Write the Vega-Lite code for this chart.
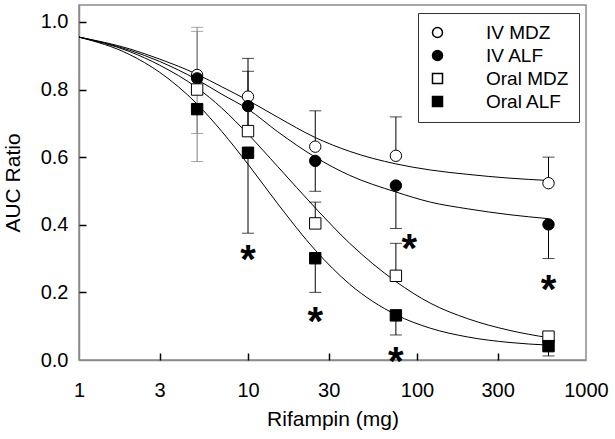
{
  "$schema": "https://vega.github.io/schema/vega-lite/v6.json",
  "width": 507,
  "height": 355,
  "autosize": {"type": "none"},
  "padding": {"left": 79, "top": 5, "right": 29, "bottom": 79},
  "background": "white",
  "config": {
    "font": "Liberation Sans",
    "view": {"stroke": "#8a8a8a", "strokeWidth": 1.5},
    "axis": {
      "grid": false,
      "domainColor": "#8a8a8a",
      "domainWidth": 1.5,
      "labelColor": "black",
      "titleColor": "black",
      "labelFontSize": 20,
      "titleFontSize": 21,
      "titleFontWeight": "normal"
    }
  },
  "resolve": {"axis": {"x": "independent", "y": "independent"}},
  "datasets": {
    "points": [
      {"series": "IV MDZ", "dose": 5, "auc": 0.843, "bound": 0.984},
      {"series": "IV MDZ", "dose": 10, "auc": 0.779, "bound": 0.892},
      {"series": "IV MDZ", "dose": 25, "auc": 0.631, "bound": 0.737},
      {"series": "IV MDZ", "dose": 75, "auc": 0.604, "bound": 0.719},
      {"series": "IV MDZ", "dose": 600, "auc": 0.523, "bound": 0.600},
      {"series": "IV ALF", "dose": 5, "auc": 0.833, "bound": 0.670},
      {"series": "IV ALF", "dose": 10, "auc": 0.751, "bound": 0.690},
      {"series": "IV ALF", "dose": 25, "auc": 0.589, "bound": 0.499},
      {"series": "IV ALF", "dose": 75, "auc": 0.516, "bound": 0.389},
      {"series": "IV ALF", "dose": 600, "auc": 0.401, "bound": 0.300},
      {"series": "Oral MDZ", "dose": 5, "auc": 0.800, "bound": 0.972},
      {"series": "Oral MDZ", "dose": 10, "auc": 0.677, "bound": 0.854},
      {"series": "Oral MDZ", "dose": 25, "auc": 0.404, "bound": 0.467},
      {"series": "Oral MDZ", "dose": 75, "auc": 0.249, "bound": 0.345},
      {"series": "Oral MDZ", "dose": 600, "auc": 0.069, "bound": 0.078},
      {"series": "Oral ALF", "dose": 5, "auc": 0.742, "bound": 0.587},
      {"series": "Oral ALF", "dose": 10, "auc": 0.613, "bound": 0.375},
      {"series": "Oral ALF", "dose": 25, "auc": 0.301, "bound": 0.200},
      {"series": "Oral ALF", "dose": 75, "auc": 0.132, "bound": 0.074},
      {"series": "Oral ALF", "dose": 600, "auc": 0.041, "bound": 0.012}
    ],
    "curves": [
      {"series": "IV MDZ", "dose": 1, "auc": 0.955},
      {"series": "IV MDZ", "dose": 2, "auc": 0.920},
      {"series": "IV MDZ", "dose": 3, "auc": 0.890},
      {"series": "IV MDZ", "dose": 5, "auc": 0.845},
      {"series": "IV MDZ", "dose": 7, "auc": 0.808},
      {"series": "IV MDZ", "dose": 10, "auc": 0.768},
      {"series": "IV MDZ", "dose": 15, "auc": 0.718},
      {"series": "IV MDZ", "dose": 25, "auc": 0.658},
      {"series": "IV MDZ", "dose": 40, "auc": 0.617},
      {"series": "IV MDZ", "dose": 75, "auc": 0.580},
      {"series": "IV MDZ", "dose": 120, "auc": 0.562},
      {"series": "IV MDZ", "dose": 200, "auc": 0.549},
      {"series": "IV MDZ", "dose": 350, "auc": 0.538},
      {"series": "IV MDZ", "dose": 600, "auc": 0.531},
      {"series": "IV ALF", "dose": 1, "auc": 0.955},
      {"series": "IV ALF", "dose": 2, "auc": 0.916},
      {"series": "IV ALF", "dose": 3, "auc": 0.883},
      {"series": "IV ALF", "dose": 5, "auc": 0.829},
      {"series": "IV ALF", "dose": 7, "auc": 0.786},
      {"series": "IV ALF", "dose": 10, "auc": 0.742},
      {"series": "IV ALF", "dose": 15, "auc": 0.675},
      {"series": "IV ALF", "dose": 25, "auc": 0.600},
      {"series": "IV ALF", "dose": 40, "auc": 0.546},
      {"series": "IV ALF", "dose": 75, "auc": 0.497},
      {"series": "IV ALF", "dose": 120, "auc": 0.467},
      {"series": "IV ALF", "dose": 200, "auc": 0.447},
      {"series": "IV ALF", "dose": 350, "auc": 0.430},
      {"series": "IV ALF", "dose": 600, "auc": 0.418},
      {"series": "Oral MDZ", "dose": 1, "auc": 0.955},
      {"series": "Oral MDZ", "dose": 2, "auc": 0.912},
      {"series": "Oral MDZ", "dose": 3, "auc": 0.872},
      {"series": "Oral MDZ", "dose": 5, "auc": 0.805},
      {"series": "Oral MDZ", "dose": 7, "auc": 0.745},
      {"series": "Oral MDZ", "dose": 10, "auc": 0.668},
      {"series": "Oral MDZ", "dose": 15, "auc": 0.572},
      {"series": "Oral MDZ", "dose": 25, "auc": 0.450},
      {"series": "Oral MDZ", "dose": 40, "auc": 0.345},
      {"series": "Oral MDZ", "dose": 75, "auc": 0.232},
      {"series": "Oral MDZ", "dose": 120, "auc": 0.168},
      {"series": "Oral MDZ", "dose": 200, "auc": 0.122},
      {"series": "Oral MDZ", "dose": 350, "auc": 0.088},
      {"series": "Oral MDZ", "dose": 600, "auc": 0.066},
      {"series": "Oral ALF", "dose": 1, "auc": 0.955},
      {"series": "Oral ALF", "dose": 2, "auc": 0.903},
      {"series": "Oral ALF", "dose": 3, "auc": 0.851},
      {"series": "Oral ALF", "dose": 5, "auc": 0.757},
      {"series": "Oral ALF", "dose": 7, "auc": 0.676},
      {"series": "Oral ALF", "dose": 10, "auc": 0.579},
      {"series": "Oral ALF", "dose": 15, "auc": 0.462},
      {"series": "Oral ALF", "dose": 25, "auc": 0.325},
      {"series": "Oral ALF", "dose": 40, "auc": 0.224},
      {"series": "Oral ALF", "dose": 75, "auc": 0.134},
      {"series": "Oral ALF", "dose": 120, "auc": 0.094},
      {"series": "Oral ALF", "dose": 200, "auc": 0.068},
      {"series": "Oral ALF", "dose": 350, "auc": 0.052},
      {"series": "Oral ALF", "dose": 600, "auc": 0.044}
    ],
    "stars": [
      {"dose": 10, "auc": 0.325},
      {"dose": 25, "auc": 0.143},
      {"dose": 75, "auc": 0.025},
      {"dose": 90, "auc": 0.357},
      {"dose": 600, "auc": 0.237}
    ]
  },
  "layer": [
    {
      "data": {"name": "points"},
      "mark": {"type": "rule", "strokeWidth": 1},
      "encoding": {
        "x": {
          "field": "dose", "type": "quantitative", "title": "Rifampin (mg)",
          "scale": {"type": "log", "domain": [1, 1000], "nice": false},
          "axis": {"orient": "bottom", "values": [1, 3, 10, 30, 100, 300, 1000], "format": "d", "ticks": false, "labelPadding": 20, "titlePadding": 8, "labelFlush": false}
        },
        "y": {
          "field": "auc", "type": "quantitative", "title": "AUC Ratio",
          "scale": {"domain": [0, 1.05], "nice": false, "zero": false},
          "axis": {"orient": "left", "values": [0, 0.2, 0.4, 0.6, 0.8, 1.0], "format": ".1f", "ticks": false, "labelPadding": 11, "titlePadding": 17, "labelFlush": false}
        },
        "y2": {"field": "bound"},
        "stroke": {"condition": {"test": "datum.dose == 5", "value": "#808080"}, "value": "black"}
      }
    },
    {
      "data": {"name": "points"},
      "mark": {"type": "point", "shape": "M-1,0L1,0", "filled": false, "size": 144, "strokeWidth": 1},
      "encoding": {
        "x": {"field": "dose", "type": "quantitative", "axis": null},
        "y": {"field": "bound", "type": "quantitative", "axis": null},
        "stroke": {"condition": {"test": "datum.dose == 5", "value": "#808080"}, "value": "black"}
      }
    },
    {
      "data": {"name": "curves"},
      "mark": {"type": "line", "interpolate": "monotone", "stroke": "black", "strokeWidth": 1},
      "encoding": {
        "x": {"field": "dose", "type": "quantitative", "axis": null},
        "y": {"field": "auc", "type": "quantitative", "axis": null},
        "detail": {"field": "series", "type": "nominal"}
      }
    },
    {
      "data": {"name": "points"},
      "mark": {"type": "point", "filled": false, "stroke": "black", "strokeWidth": 1, "size": 130, "opacity": 1},
      "encoding": {
        "x": {"field": "dose", "type": "quantitative", "axis": null},
        "y": {"field": "auc", "type": "quantitative", "axis": null},
        "fill": {
          "field": "series", "type": "nominal",
          "scale": {"domain": ["IV MDZ", "IV ALF", "Oral MDZ", "Oral ALF"], "range": ["white", "black", "white", "black"]},
          "legend": {
            "title": null, "orient": "none", "legendX": 339, "legendY": 8,
            "strokeColor": "#333333", "padding": 10, "symbolOffset": 0, "labelOffset": 39,
            "labelFontSize": 19, "labelColor": "black", "rowPadding": 3, "symbolSize": 100
          }
        },
        "shape": {
          "field": "series", "type": "nominal",
          "scale": {"domain": ["IV MDZ", "IV ALF", "Oral MDZ", "Oral ALF"], "range": ["circle", "circle", "square", "square"]},
          "legend": {
            "title": null, "orient": "none", "legendX": 339, "legendY": 8,
            "strokeColor": "#333333", "padding": 10, "symbolOffset": 0, "labelOffset": 39,
            "labelFontSize": 19, "labelColor": "black", "rowPadding": 3, "symbolSize": 100
          }
        }
      }
    },
    {
      "data": {"name": "stars"},
      "mark": {"type": "text", "text": "*", "fontSize": 40, "fontWeight": "bold", "baseline": "alphabetic", "align": "center", "dy": 23, "color": "black"},
      "encoding": {
        "x": {
          "field": "dose", "type": "quantitative",
          "axis": {"orient": "top", "offset": -355, "values": [3, 10, 30, 100, 300], "labels": false, "domain": false, "title": null, "tickSize": 7, "tickColor": "black", "tickOpacity": 1, "tickWidth": 1.5, "ticks": true, "zindex": 1}
        },
        "y": {
          "field": "auc", "type": "quantitative",
          "axis": {"orient": "right", "offset": -507, "values": [0.2, 0.4, 0.6, 0.8, 1.0], "labels": false, "domain": false, "title": null, "tickSize": 7, "tickColor": "black", "tickOpacity": 1, "tickWidth": 1.5, "ticks": true, "zindex": 1}
        }
      }
    }
  ]
}
